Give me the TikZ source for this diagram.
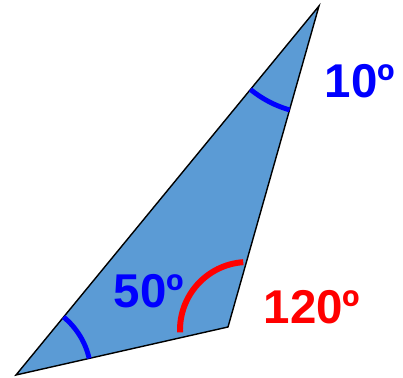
\documentclass[tikz,border=0pt]{standalone}
\usepackage{fontspec}
\setmainfont{Liberation Sans}
\usepackage{xcolor}
\usetikzlibrary{calc}
\definecolor{shade}{HTML}{5B9BD5}

\begin{document}
\begin{tikzpicture}[
  x=0.02cm, y=0.02cm,
  tri/.style={draw=black, line width=0.8pt, fill=shade, line join=miter},
  bluearc/.style={draw=blue, line width=2.8pt},
  redarc/.style={draw=red, line width=3.4pt},
  deg/.style={font=\bfseries\fontsize{27}{30}\selectfont, inner sep=0pt}
]
  \useasboundingbox (0,0) rectangle (403,378);
  \coordinate (left) at (16,3);
  \coordinate (right) at (228,51);
  \coordinate (top) at (319,372);
  \filldraw[tri] (left) -- (right) -- (top) -- cycle;

  \draw[bluearc] ($(left)+(12.8:75)$) arc[start angle=12.8, end angle=50.6, radius=75];
  \draw[bluearc] ($(top)+(230.6:108)$) arc[start angle=230.6, end angle=254.2, radius=108];
  \draw[redarc] ($(right)+(20,-3)+(94:68)$) arc[start angle=94, end angle=182, radius=68];

  \node[deg, text=blue] (ten) at ($(top)+(41,-75)$) {10º};
  \node[deg, text=blue] (fifty) at ($(right)+(-79,36)$) {50º};
  \node[deg, text=red] (hundred) at ($(right)+(84,20)$) {120º};
\end{tikzpicture}
\end{document}
